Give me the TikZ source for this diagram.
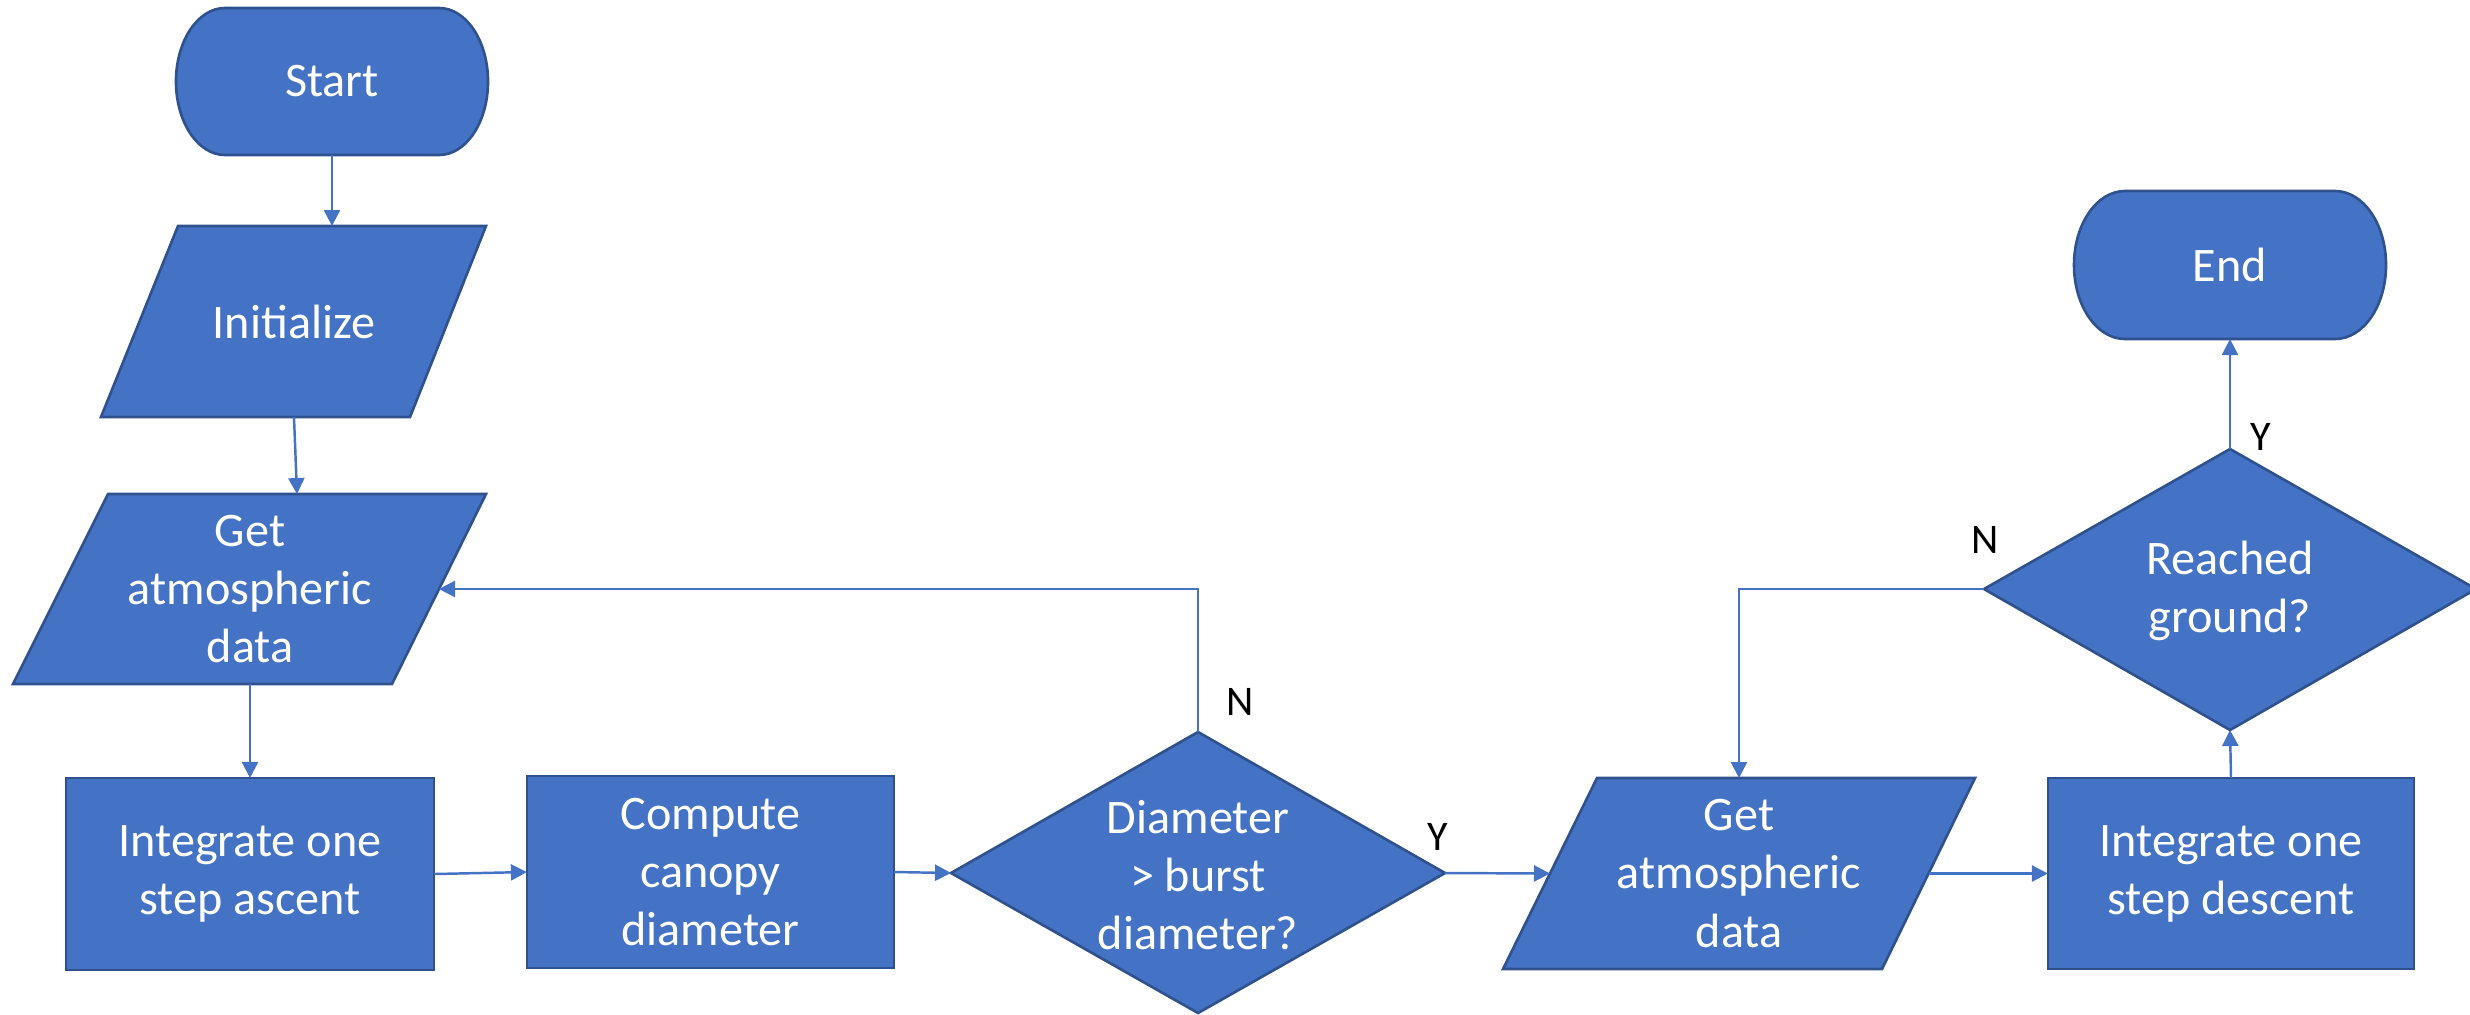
\documentclass[tikz,border=0pt]{standalone}
\usepackage{fontspec}
\setmainfont{Carlito}
\usetikzlibrary{arrows.meta,calc}
\definecolor{fillblue}{HTML}{4472C4}
\definecolor{edgeblue}{HTML}{2F528F}
\begin{document}
\begin{tikzpicture}[x=0.01cm,y=-0.01cm,
  shapebox/.style={fill=fillblue, draw=edgeblue, line width=0.75pt, line join=miter},
  txt/.style={text=white, align=center, font=\fontsize{13.7}{16.5}\selectfont, inner sep=0pt},
  lbl/.style={text=black, font=\fontsize{12}{14}\selectfont, inner sep=0pt},
  conn/.style={draw=fillblue, line width=0.7pt, -{Triangle[length=0.16cm,width=0.16cm]}},
]
\useasboundingbox (0,0) rectangle (2470,1014);

% ---- Start terminal
\filldraw[shapebox] (225,8) -- (439,8) .. controls (466.1,8) and (488,40.9) .. (488,81.5)
  .. controls (488,122.1) and (466.1,155) .. (439,155) -- (225,155)
  .. controls (197.9,155) and (176,122.1) .. (176,81.5)
  .. controls (176,40.9) and (197.9,8) .. (225,8) -- cycle;
\node[txt] (start) at (332,81.5) {Start};
\coordinate (start-b) at (332,155);

% ---- Initialize
\filldraw[shapebox] (178,226) -- (486,226) -- (410,417) -- (101,417) -- cycle;
\node[txt] (init) at (294,321.5) {Initialize};
\coordinate (init-t) at (332,226);
\coordinate (init-b) at (294,417);

% ---- Get atmospheric data (left)
\filldraw[shapebox] (108,494) -- (486,494) -- (392,684) -- (13,684) -- cycle;
\node[txt] (ga1) at (250,589) {Get\\atmospheric\\data};
\coordinate (ga1-t) at (297,494);
\coordinate (ga1-b) at (250,684);
\coordinate (ga1-r) at (439,589);

% ---- Integrate one step ascent
\node[shapebox, txt, outer sep=0pt, minimum width=3.68cm, minimum height=1.92cm] (asc) at (250,874) {Integrate one\\step ascent};

% ---- Compute canopy diameter
\node[shapebox, txt, outer sep=0pt, minimum width=3.67cm, minimum height=1.92cm] (cmp) at (710.5,872) {Compute\\canopy\\diameter};

% ---- Diamond 1
\filldraw[shapebox] (1198,732) -- (1445,873) -- (1198,1013) -- (951,873) -- cycle;
\node[txt] (d1) at (1198,875) {Diameter\\> burst\\diameter?};
\coordinate (d1-t) at (1198,732);
\coordinate (d1-l) at (951,873);
\coordinate (d1-r) at (1445,873);

% ---- Get atmospheric data (right)
\filldraw[shapebox] (1597,778) -- (1975,778) -- (1882,969) -- (1503,969) -- cycle;
\node[txt] (ga2) at (1739,873.5) {Get\\atmospheric\\data};
\coordinate (ga2-t) at (1739,778);
\coordinate (ga2-l) at (1550,873.5);
\coordinate (ga2-r) at (1928.5,873.5);

% ---- Integrate one step descent
\node[shapebox, txt, outer sep=0pt, minimum width=3.66cm, minimum height=1.91cm] (dsc) at (2231,873.5) {Integrate one\\step descent};

% ---- Diamond 2
\filldraw[shapebox] (2230,449) -- (2476,589) -- (2230,730) -- (1984,589) -- cycle;
\node[txt] (d2) at (2230,591) {Reached\\ground?};
\coordinate (d2-t) at (2230,449);
\coordinate (d2-l) at (1984,589);
\coordinate (d2-b) at (2230,730);

% ---- End terminal
\filldraw[shapebox] (2125,191) -- (2335,191) .. controls (2363.2,191) and (2386,224.1) .. (2386,265)
  .. controls (2386,305.9) and (2363.2,339) .. (2335,339) -- (2125,339)
  .. controls (2096.8,339) and (2074,305.9) .. (2074,265)
  .. controls (2074,224.1) and (2096.8,191) .. (2125,191) -- cycle;
\node[txt] (end) at (2230,265) {End};
\coordinate (end-b) at (2230,339);

% ---- Connectors
\draw[conn] (start-b) -- (init-t);
\draw[conn] (init-b) -- (ga1-t);
\draw[conn] (ga1-b) -- (asc.north);
\draw[conn] (asc.east) -- (cmp.west);
\draw[conn] (cmp.east) -- (d1-l);
\draw[conn] (d1-t) |- (ga1-r);
\draw[conn] (d1-r) -- (ga2-l);
\draw[conn] (ga2-r) -- (dsc.west);
\draw[conn] (dsc.north) -- (d2-b);
\draw[conn] (d2-t) -- (end-b);
\draw[conn] (d2-l) -| (ga2-t);

% ---- Labels
\node[lbl] (n1) at (1240,702) {N};
\node[lbl] (y1) at (1438,837) {Y};
\node[lbl] (n2) at (1985,540) {N};
\node[lbl] (y2) at (2261,437) {Y};
\end{tikzpicture}
\end{document}
